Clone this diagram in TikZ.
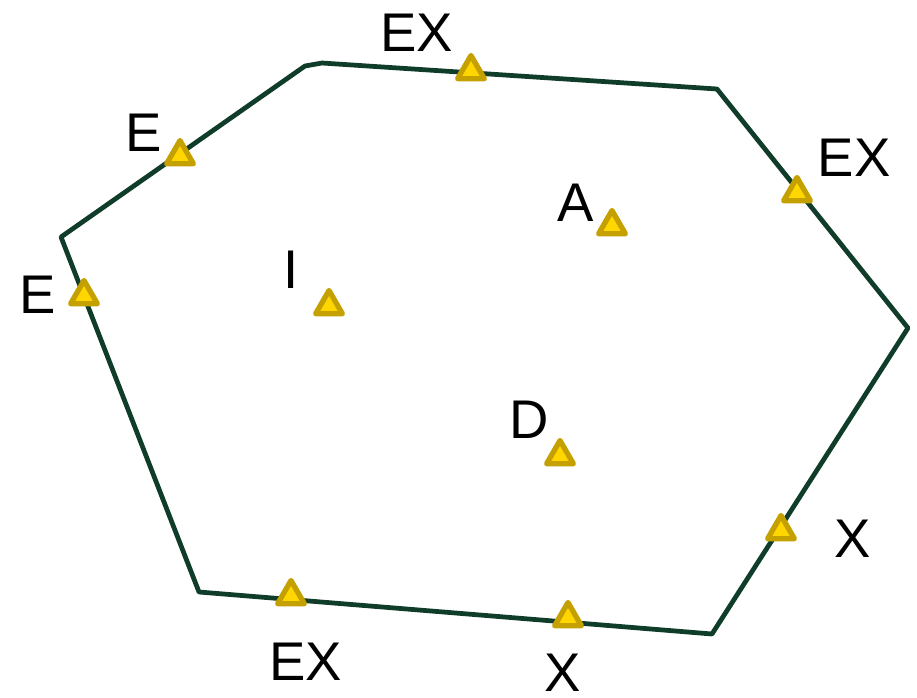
\documentclass[tikz,border=0pt]{standalone}
\usepackage{fontspec}
\setmainfont{Liberation Sans}
\usepackage{tikz}
\usetikzlibrary{shapes.geometric}
\definecolor{edgegreen}{RGB}{16, 60, 42}
\definecolor{markgold}{RGB}{196, 160, 0}
\definecolor{markfill}{RGB}{255, 214, 0}
\tikzset{
    rim/.style  ={draw=edgegreen, line width=1.35pt, line join=round},
    tri/.style  ={regular polygon, regular polygon sides=3, draw=markgold,
                  fill=markfill, line width=1.5pt, line join=round,
                  minimum size=0.31cm, inner sep=0pt},
    tag/.style  ={inner sep=0pt, font=\fontsize{15.5}{18}\selectfont}
}

\begin{document}
\begin{tikzpicture}[x=1cm, y=1cm]
  \useasboundingbox (0,0) rectangle (9.17,-6.98);

  % outline
  \coordinate (p1) at (3.05,-0.66);
  \coordinate (p2) at (3.22,-0.63);
  \coordinate (p3) at (7.17,-0.89);
  \coordinate (p4) at (9.08,-3.28);
  \coordinate (p5) at (7.12,-6.34);
  \coordinate (p6) at (1.99,-5.92);
  \coordinate (p7) at (0.61,-2.37);
  \draw[rim] (p1) -- (p2) -- (p3) -- (p4) -- (p5) -- (p6) -- (p7) -- cycle;

  % markers
  \node[tri] (mtop)   at (4.71,-0.71) {};
  \node[tri] (mul)    at (1.80,-1.56) {};
  \node[tri] (mleft)  at (0.84,-2.96) {};
  \node[tri] (mi)     at (3.29,-3.06) {};
  \node[tri] (ma)     at (6.12,-2.26) {};
  \node[tri] (mright) at (7.97,-1.93) {};
  \node[tri] (md)     at (5.60,-4.56) {};
  \node[tri] (mlr)    at (7.81,-5.31) {};
  \node[tri] (mbot)   at (5.68,-6.18) {};
  \node[tri] (mbl)    at (2.91,-5.96) {};

  % labels
  \node[tag] (ltop)   at (4.17,-0.33) {EX};
  \node[tag] (lul)    at (1.44,-1.33) {E};
  \node[tag] (lleft)  at (0.38,-2.95) {E};
  \node[tag] (li)     at (2.91,-2.70) {I};
  \node[tag] (la)     at (5.76,-2.03) {A};
  \node[tag] (lright) at (8.54,-1.58) {EX};
  \node[tag] (ld)     at (5.29,-4.20) {D};
  \node[tag] (llr)    at (8.53,-5.39) {X};
  \node[tag] (lbot)   at (5.63,-6.73) {X};
  \node[tag] (lbl)    at (3.06,-6.62) {EX};
\end{tikzpicture}
\end{document}
